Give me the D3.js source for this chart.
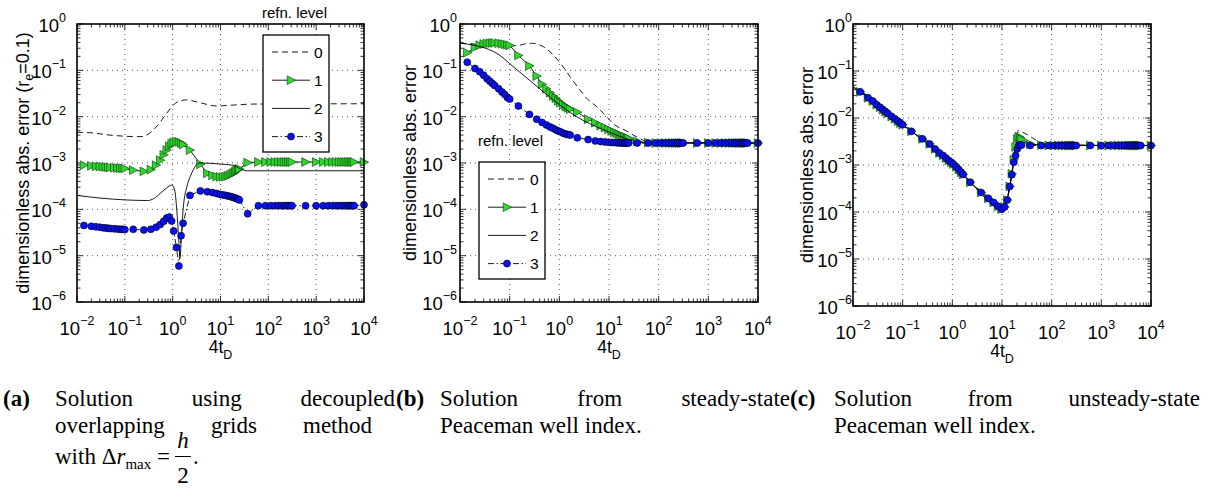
<!DOCTYPE html>
<html>
<head>
<meta charset="utf-8">
<script src="https://cdn.jsdelivr.net/npm/d3@7"></script>
<style>
body { margin: 0; background: #fff; }
svg text { font-family: "Liberation Sans", Arial, sans-serif; fill: #000; }
svg text.cap { font-family: "Liberation Serif", "Times New Roman", serif; font-size: 23px; }
</style>
</head>
<body>
<div id="grafico"></div>
<script>
var width = 1208,
    height = 498;

// eixos
var xDecadas = [1e-2, 1e-1, 1, 1e1, 1e2, 1e3, 1e4];
var yDecadas = [1e-6, 1e-5, 1e-4, 1e-3, 1e-2, 1e-1, 1];
var niveis = ['0', '1', '2', '3'];

// passos de tempo (4t_D) das séries com marcador
var tGrid = [0.014, 0.02, 0.025, 0.03, 0.035, 0.04, 0.045, 0.05, 0.06, 0.07, 0.08, 0.09, 0.1,
  0.15, 0.25, 0.35, 0.45, 0.55, 0.65, 0.75, 0.85, 0.95, 1.05, 1.2, 1.35, 1.5, 1.65,
  2.3, 3.8, 5.3, 6.8, 8.3, 9.8, 11.3, 12.8, 14.3, 15.8, 17.3, 18.8, 20.3, 21.8, 23.3, 24.8,
  37, 62, 87, 112, 137, 162, 187, 212, 237, 262, 287, 312,
  600, 1000, 1400, 1800, 2200, 2600, 3000, 3400, 3800, 4200, 4600, 5000, 5400, 5800, 6200, 10000];

// (a) overlapping grids
var a0x = [0.01, 0.0187, 0.049, 0.207, 0.286, 0.46, 0.75, 1.03, 1.42, 1.96, 3.73, 8.3, 18.6, 48.6, 10000];
var a0y = [4.6e-3, 4.5e-3, 4.0e-3, 3.7e-3, 4.0e-3, 6.1e-3, 1.18e-2, 1.78e-2, 2.2e-2, 2.3e-2, 2.0e-2, 1.7e-2, 1.78e-2, 1.87e-2, 1.9e-2];
var a1y = [9.0e-4, 8.7e-4, 8.5e-4, 8.4e-4, 8.3e-4, 8.2e-4, 8.1e-4, 8.0e-4, 7.9e-4, 7.8e-4, 7.7e-4, 7.7e-4, 7.6e-4,
  7.0e-4, 6.6e-4, 7.2e-4, 9.0e-4, 1.15e-3, 1.5e-3, 1.9e-3, 2.3e-3, 2.6e-3, 2.8e-3, 2.9e-3, 2.85e-3, 2.7e-3, 2.5e-3,
  1.9e-3, 9.4e-4, 6.0e-4, 5.4e-4, 5.1e-4, 5.0e-4, 5.0e-4, 5.1e-4, 5.3e-4, 5.5e-4, 5.8e-4, 6.1e-4, 6.5e-4, 6.9e-4, 7.2e-4, 7.5e-4,
  1.02e-3, 1.05e-3, 1.05e-3, 1.05e-3, 1.05e-3, 1.05e-3, 1.05e-3, 1.05e-3, 1.05e-3, 1.05e-3, 1.05e-3, 1.05e-3,
  1.05e-3, 1.05e-3, 1.05e-3, 1.05e-3, 1.05e-3, 1.05e-3, 1.05e-3, 1.05e-3, 1.05e-3, 1.05e-3, 1.05e-3, 1.05e-3, 1.05e-3, 1.05e-3, 1.05e-3, 1.05e-3];
var a2x = [0.01, 0.03, 0.1, 0.3, 0.4, 0.55, 0.75, 0.95, 1.1, 1.22, 1.33, 1.42, 1.52, 1.65, 2.0, 2.4, 3.7, 10, 18.6, 26, 35, 10000];
var a2y = [2.0e-4, 1.75e-4, 1.6e-4, 1.55e-4, 1.7e-4, 2.2e-4, 2.9e-4, 3.35e-4, 2.6e-4, 9.5e-5, 2.5e-5, 8.7e-6, 2.5e-5, 9.7e-5, 3.2e-4, 5.5e-4, 1.0e-3, 9.5e-4, 8.9e-4, 7.5e-4, 6.8e-4, 6.8e-4];
var a3y = [4.5e-5, 4.3e-5, 4.2e-5, 4.1e-5, 4.0e-5, 3.95e-5, 3.9e-5, 3.85e-5, 3.8e-5, 3.75e-5, 3.7e-5, 3.7e-5, 3.65e-5,
  3.7e-5, 3.6e-5, 3.7e-5, 4.1e-5, 4.7e-5, 5.5e-5, 6.5e-5, 6.8e-5, 5.6e-5, 3.4e-5, 1.5e-5, 6e-6, 2.7e-5, 5e-5,
  2.0e-4, 2.5e-4, 2.4e-4, 2.3e-4, 2.2e-4, 2.1e-4, 2.05e-4, 2.0e-4, 1.95e-4, 1.9e-4, 1.85e-4, 1.8e-4, 1.75e-4, 1.7e-4, 1.65e-4, 1.6e-4,
  8e-5, 1.2e-4, 1.2e-4, 1.2e-4, 1.2e-4, 1.2e-4, 1.2e-4, 1.2e-4, 1.2e-4, 1.2e-4, 1.2e-4, 1.2e-4,
  1.2e-4, 1.2e-4, 1.2e-4, 1.2e-4, 1.2e-4, 1.2e-4, 1.2e-4, 1.2e-4, 1.2e-4, 1.2e-4, 1.2e-4, 1.2e-4, 1.2e-4, 1.2e-4, 1.2e-4, 1.25e-4];

// (b) Peaceman estacionário
var b0x = [0.01, 0.03, 0.08, 0.139, 0.2, 0.278, 0.475, 0.7, 1.12, 1.64, 2.61, 3.56, 5.65, 8.3, 13.2, 21, 30.9, 49, 70, 10000];
var b0y = [0.38, 0.36, 0.34, 0.34, 0.37, 0.383, 0.324, 0.233, 0.13, 0.073, 0.0376, 0.0249, 0.0164, 0.0109, 0.0066, 0.0051, 0.004, 0.0031, 0.0028, 0.0027];
var b1y = [0.24, 0.31, 0.35, 0.37, 0.38, 0.385, 0.39, 0.39, 0.385, 0.375, 0.365, 0.355, 0.345,
  0.21, 0.125, 0.075, 0.05, 0.040, 0.033, 0.028, 0.025, 0.022, 0.020, 0.018, 0.0165, 0.0155, 0.0145,
  0.0125, 0.0088, 0.0074, 0.0064, 0.0058, 0.0053, 0.0049, 0.0046, 0.0044, 0.0042, 0.0040, 0.0038, 0.0037, 0.0036, 0.0035, 0.0034,
  0.0029, 0.00275, 0.0027, 0.0027, 0.0027, 0.0027, 0.0027, 0.0027, 0.0027, 0.0027, 0.0027, 0.0027,
  0.0027, 0.0027, 0.0027, 0.0027, 0.0027, 0.0027, 0.0027, 0.0027, 0.0027, 0.0027, 0.0027, 0.0027, 0.0027, 0.0027, 0.0027, 0.0027];
var b2x = [0.01, 0.0117, 0.055, 0.118, 0.3, 0.757, 2.23, 6.6, 14.3, 26.4, 42, 100, 10000];
var b2y = [0.39, 0.38, 0.233, 0.12, 0.052, 0.023, 0.01, 0.0056, 0.004, 0.00315, 0.00275, 0.0027, 0.0027];
var b3y = [0.15, 0.11, 0.093, 0.078, 0.066, 0.058, 0.052, 0.047, 0.040, 0.034, 0.030, 0.026, 0.024,
  0.017, 0.0112, 0.0088, 0.0075, 0.0066, 0.006, 0.0056, 0.0052, 0.0049, 0.0047, 0.0044, 0.0042, 0.0041, 0.004,
  0.0035, 0.0032, 0.003, 0.0029, 0.00285, 0.0028, 0.00278, 0.00276, 0.00274, 0.00272, 0.0027, 0.0027, 0.0027, 0.0027, 0.0027, 0.0027,
  0.0027, 0.0027, 0.0027, 0.0027, 0.0027, 0.0027, 0.0027, 0.0027, 0.0027, 0.0027, 0.0027, 0.0027,
  0.0027, 0.0027, 0.0027, 0.0027, 0.0027, 0.0027, 0.0027, 0.0027, 0.0027, 0.0027, 0.0027, 0.0027, 0.0027, 0.0027, 0.0027, 0.0027];

// (c) Peaceman não estacionário
var c0x = [0.01, 0.03, 0.1, 0.3, 1, 3, 10, 11.3, 14, 16.5, 19, 21.5, 26, 35, 50, 75, 10000];
var c0y = [0.046, 0.021, 0.0072, 0.003, 0.0011, 3.2e-4, 1.15e-4, 1.3e-4, 3e-4, 9e-4, 2.5e-3, 5.5e-3, 5e-3, 4.2e-3, 3.3e-3, 2.7e-3, 2.6e-3];
var c1y = [0.036, 0.027, 0.023, 0.0192, 0.0169, 0.0151, 0.0137, 0.0126, 0.0108, 0.0096, 0.0086, 0.0078, 0.0072,
  0.0052, 0.0036, 0.0028, 0.0022, 0.0018, 0.0016, 0.0014, 0.00125, 0.00115, 0.00105, 0.00092, 0.0008, 0.0007, 0.00063,
  4.3e-4, 2.6e-4, 1.95e-4, 1.6e-4, 1.32e-4, 1.15e-4, 1.28e-4, 1.8e-4, 3.5e-4, 6.5e-4, 1.3e-3, 2.4e-3, 3.6e-3, 4.0e-3, 3.8e-3, 3.5e-3,
  2.8e-3, 2.65e-3, 2.6e-3, 2.6e-3, 2.6e-3, 2.6e-3, 2.6e-3, 2.6e-3, 2.6e-3, 2.6e-3, 2.6e-3, 2.6e-3,
  2.6e-3, 2.6e-3, 2.6e-3, 2.6e-3, 2.6e-3, 2.6e-3, 2.6e-3, 2.6e-3, 2.6e-3, 2.6e-3, 2.6e-3, 2.6e-3, 2.6e-3, 2.6e-3, 2.6e-3, 2.6e-3];
var c2x = [0.01, 0.03, 0.1, 0.3, 1, 3, 10, 11.3, 14, 16.5, 19, 22, 28, 40, 60, 10000];
var c2y = [0.046, 0.021, 0.0072, 0.003, 0.0011, 3.2e-4, 1.15e-4, 1.3e-4, 3e-4, 9e-4, 2.2e-3, 3.1e-3, 3.0e-3, 2.8e-3, 2.65e-3, 2.6e-3];
var c3y = [0.036, 0.027, 0.023, 0.0192, 0.0169, 0.0151, 0.0137, 0.0126, 0.0108, 0.0096, 0.0086, 0.0078, 0.0072,
  0.0052, 0.0036, 0.0028, 0.0022, 0.0018, 0.0016, 0.0014, 0.00125, 0.00115, 0.00105, 0.00092, 0.0008, 0.0007, 0.00063,
  4.3e-4, 2.6e-4, 1.95e-4, 1.6e-4, 1.32e-4, 1.15e-4, 1.28e-4, 1.8e-4, 3.5e-4, 6.2e-4, 1.15e-3, 1.6e-3, 2.2e-3, 2.6e-3, 2.65e-3, 2.65e-3,
  2.6e-3, 2.6e-3, 2.6e-3, 2.6e-3, 2.6e-3, 2.6e-3, 2.6e-3, 2.6e-3, 2.6e-3, 2.6e-3, 2.6e-3, 2.6e-3,
  2.6e-3, 2.6e-3, 2.6e-3, 2.6e-3, 2.6e-3, 2.6e-3, 2.6e-3, 2.6e-3, 2.6e-3, 2.6e-3, 2.6e-3, 2.6e-3, 2.6e-3, 2.6e-3, 2.6e-3, 2.6e-3];

var svg = d3.select("#grafico").append("svg")
    .attr("width", width)
    .attr("height", height);

var triangulo = "M-3.8,-4.4L4.6,0L-3.8,4.4Z";
var verde = "#2fd62f", azul = "#0a10f0";

function junta(xs, ys) {
  return xs.map(function(v, i) { return [v, ys[i]]; })
    .filter(function(d) { return d[1] !== undefined; });
}

function expoente(txt, v, supDy) {
  var e = Math.round(Math.log10(v));
  txt.append("tspan").text("10");
  txt.append("tspan").attr("dy", supDy).attr("font-size", 12.5)
    .text(e < 0 ? "\u2212" + (-e) : String(e));
}

function desenha_painel(p) {
  var g = svg.append("g");
  var x = d3.scaleLog().domain([1e-2, 1e4]).range([p.x0, p.x1]);
  var y = d3.scaleLog().domain([1e-6, 1]).range([p.y1, p.y0]);

  // grade pontilhada
  xDecadas.slice(1, -1).forEach(function(v) {
    g.append("line").attr("x1", x(v)).attr("x2", x(v)).attr("y1", p.y0).attr("y2", p.y1)
      .attr("stroke", "#333").attr("stroke-width", 0.8).attr("stroke-dasharray", "1,4");
  });
  yDecadas.slice(1, -1).forEach(function(v) {
    g.append("line").attr("x1", p.x0).attr("x2", p.x1).attr("y1", y(v)).attr("y2", y(v))
      .attr("stroke", "#333").attr("stroke-width", 0.8).attr("stroke-dasharray", "1,4");
  });

  // ticks para dentro, nos quatro lados
  var tk = g.append("g").attr("stroke", "#000").attr("stroke-width", 0.8);
  x.ticks().forEach(function(v) {
    var maior = xDecadas.some(function(d) { return Math.abs(d - v) / d < 1e-6; }), L = maior ? 6 : 3.5;
    tk.append("line").attr("x1", x(v)).attr("x2", x(v)).attr("y1", p.y1).attr("y2", p.y1 - L);
    tk.append("line").attr("x1", x(v)).attr("x2", x(v)).attr("y1", p.y0).attr("y2", p.y0 + L);
  });
  y.ticks().forEach(function(v) {
    var maior = yDecadas.some(function(d) { return Math.abs(d - v) / d < 1e-6; }), L = maior ? 6 : 3.5;
    tk.append("line").attr("y1", y(v)).attr("y2", y(v)).attr("x1", p.x0).attr("x2", p.x0 + L);
    tk.append("line").attr("y1", y(v)).attr("y2", y(v)).attr("x1", p.x1).attr("x2", p.x1 - L);
  });

  // rótulos dos ticks
  xDecadas.forEach(function(v) {
    var t = g.append("text").attr("x", x(v)).attr("y", p.y1 + 33)
      .attr("text-anchor", "middle").attr("font-size", 18.5);
    expoente(t, v, -10);
  });
  yDecadas.forEach(function(v) {
    var t = g.append("text").attr("x", p.x0 - p.gapY).attr("y", y(v) + 8)
      .attr("text-anchor", "end").attr("font-size", 18.5);
    expoente(t, v, -10);
  });

  // séries
  var linha = d3.line().x(function(d) { return x(d[0]); }).y(function(d) { return y(d[1]); });
  var linhaSuave = d3.line().x(function(d) { return x(d[0]); }).y(function(d) { return y(d[1]); })
    .curve(d3.curveMonotoneX);

  p.series.forEach(function(s, i) {
    var pts = junta(s.x, s.y);
    g.append("path")
      .attr("d", (s.marker ? linha : linhaSuave)(pts))
      .attr("fill", "none").attr("stroke", "#000").attr("stroke-width", 0.9)
      .attr("stroke-dasharray", s.dash);
    if (s.marker == "tri") {
      g.selectAll(".tri" + i).data(pts).enter().append("path")
        .attr("d", triangulo)
        .attr("transform", function(d) { return "translate(" + x(d[0]) + "," + y(d[1]) + ")"; })
        .attr("fill", verde).attr("stroke", "#0a3a0a").attr("stroke-width", 0.6);
    }
    if (s.marker == "circ") {
      g.selectAll(".circ" + i).data(pts).enter().append("circle")
        .attr("cx", function(d) { return x(d[0]); })
        .attr("cy", function(d) { return y(d[1]); })
        .attr("r", 3.5)
        .attr("fill", azul).attr("stroke", "#000").attr("stroke-width", 0.6);
    }
  });

  // moldura
  g.append("rect").attr("x", p.x0).attr("y", p.y0)
    .attr("width", p.x1 - p.x0).attr("height", p.y1 - p.y0)
    .attr("fill", "none").attr("stroke", "#000").attr("stroke-width", 1.6);

  // títulos dos eixos
  var xt = g.append("text").attr("x", (p.x0 + p.x1) / 2).attr("y", p.y1 + 51)
    .attr("text-anchor", "middle").attr("font-size", 17.5);
  xt.append("tspan").text("4t");
  xt.append("tspan").attr("dy", 6).attr("font-size", 12.5).text("D");

  var cy = (p.y0 + p.y1) / 2;
  var yt = g.append("text").attr("transform", "translate(" + p.yTitleX + "," + cy + ") rotate(-90)")
    .attr("text-anchor", "middle").attr("font-size", 18);
  yt.append("tspan").text("dimensionless abs. error");
  if (p.re) {
    yt.append("tspan").text(" (r");
    yt.append("tspan").attr("dy", 4).attr("font-size", 12.5).text("e");
    yt.append("tspan").attr("dy", -4).text("=0.1)");
  }

  // legenda
  var lg = p.legenda;
  if (!lg) return;
  g.append("text").attr("x", lg.x - 1).attr("y", lg.tituloY).attr("font-size", 15).text("refn. level");
  g.append("rect").attr("x", lg.x).attr("y", lg.y).attr("width", 66).attr("height", 117)
    .attr("fill", "#fff").attr("stroke", "#000").attr("stroke-width", 1.3);
  niveis.forEach(function(n, i) {
    var s = p.series[i], ry = lg.y + 17 + i * 28.2;
    g.append("line").attr("x1", lg.x + 9).attr("x2", lg.x + 47).attr("y1", ry).attr("y2", ry)
      .attr("stroke", "#000").attr("stroke-width", 0.9).attr("stroke-dasharray", s.dash);
    if (s.marker == "tri") {
      g.append("path").attr("d", triangulo).attr("transform", "translate(" + (lg.x + 28) + "," + ry + ")")
        .attr("fill", verde).attr("stroke", "#0a3a0a").attr("stroke-width", 0.6);
    }
    if (s.marker == "circ") {
      g.append("circle").attr("cx", lg.x + 28).attr("cy", ry).attr("r", 3.5)
        .attr("fill", azul).attr("stroke", "#000").attr("stroke-width", 0.6);
    }
    g.append("text").attr("x", lg.x + 51).attr("y", ry + 5.5).attr("font-size", 15.5).text(n);
  });
}

function series(x0, y0, y1, x2, y2, y3) {
  return [
    {x: x0, y: y0, dash: "6,4", marker: null},
    {x: tGrid, y: y1, dash: null, marker: "tri"},
    {x: x2, y: y2, dash: null, marker: null},
    {x: tGrid, y: y3, dash: "6,2.5,1.5,2.5", marker: "circ"}
  ];
}

desenha_painel({x0: 77, x1: 364, y0: 24, y1: 302, gapY: 11, yTitleX: 29, re: true,
  series: series(a0x, a0y, a1y, a2x, a2y, a3y),
  legenda: {x: 263, y: 35, tituloY: 18}});
desenha_painel({x0: 460, x1: 758, y0: 24, y1: 302, gapY: 3, yTitleX: 416, re: false,
  series: series(b0x, b0y, b1y, b2x, b2y, b3y),
  legenda: {x: 479, y: 162, tituloY: 146}});
desenha_painel({x0: 853, x1: 1151, y0: 24, y1: 306, gapY: 1, yTitleX: 813, re: false,
  series: series(c0x, c0y, c1y, c2x, c2y, c3y),
  legenda: null});

// legendas das figuras (texto justificado)
function linha_texto(x0, x1, y, palavras) {
  var nos = palavras.map(function(p) {
    return svg.append("text").attr("class", "cap").attr("y", y).text(p);
  });
  var larg = nos.map(function(n) { return n.node().getComputedTextLength(); });
  var gap = (x1 && palavras.length > 1) ? (x1 - x0 - d3.sum(larg)) / (palavras.length - 1) : 6;
  var xx = x0;
  nos.forEach(function(n, i) { n.attr("x", xx); xx += larg[i] + gap; });
}
function rotulo(x, y, t) {
  svg.append("text").attr("class", "cap").attr("x", x).attr("y", y)
    .attr("font-weight", "bold").text(t);
}

var capA1 = ["Solution", "using", "decoupled"], capA2 = ["overlapping", "grids", "method"];
var capB1 = ["Solution", "from", "steady-state"], capB2 = ["Peaceman", "well", "index."];
var capC1 = ["Solution", "from", "unsteady-state"], capC2 = ["Peaceman", "well", "index."];

rotulo(3, 406, "(a)");
linha_texto(55, 395, 406, capA1);
linha_texto(55, 372, 433, capA2);
rotulo(396, 406, "(b)");
linha_texto(440, 790, 406, capB1);
linha_texto(440, null, 433, capB2);
rotulo(790, 406, "(c)");
linha_texto(834, 1200, 406, capC1);
linha_texto(834, null, 433, capC2);

// with Δr_max = h/2.
var m = svg.append("text").attr("class", "cap").attr("x", 55).attr("y", 464);
m.append("tspan").text("with \u0394");
m.append("tspan").attr("font-style", "italic").text("r");
m.append("tspan").attr("dy", 5).attr("font-size", 15).text("max");
m.append("tspan").attr("dy", -5).text(" =");
var fx = 55 + m.node().getComputedTextLength() + 13;
svg.append("text").attr("class", "cap").attr("x", fx).attr("y", 448)
  .attr("text-anchor", "middle").attr("font-style", "italic").text("h");
svg.append("line").attr("x1", fx - 8).attr("x2", fx + 8).attr("y1", 456.5).attr("y2", 456.5)
  .attr("stroke", "#000").attr("stroke-width", 1);
svg.append("text").attr("class", "cap").attr("x", fx).attr("y", 483)
  .attr("text-anchor", "middle").text("2");
svg.append("text").attr("class", "cap").attr("x", fx + 10).attr("y", 464).text(".");
</script>
</body>
</html>
